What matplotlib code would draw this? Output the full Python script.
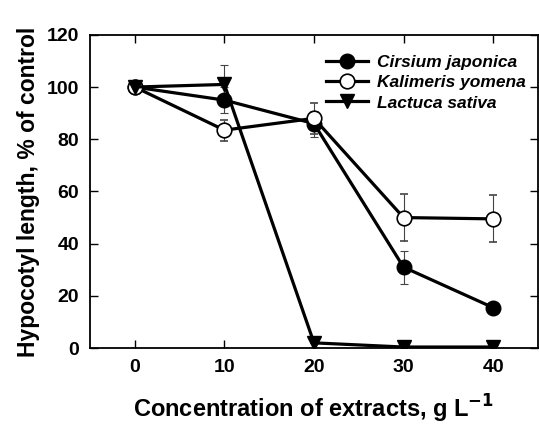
import matplotlib.pyplot as plt

plt.rcParams['font.family'] = ['Liberation Sans', 'DejaVu Sans']

conc = [0, 10, 20, 30, 40]

cirsium = [100, 95, 86, 31, 15.5]
cirsium_err = [0, 5, 5, 6.3, 0]
kalimeris = [100, 83.5, 88, 50, 49.5]
kalimeris_err = [0, 4, 6, 9, 9]
lactuca = [100, 101, 2, 0.4, 0.4]
lactuca_err = [0, 7.5, 0, 0, 0]

fig = plt.figure(figsize=(5.39, 4.25), dpi=100)
ax = fig.add_axes([0.167, 0.181, 0.831, 0.737])

err_kw = dict(ecolor='#444444', elinewidth=0.8, capsize=3, capthick=0.8)

c1 = ax.errorbar(conc, cirsium, yerr=cirsium_err, color='black', lw=2.3,
                 marker='o', ms=10.5, mfc='black', mec='black',
                 zorder=3, **err_kw)
c2 = ax.errorbar(conc, kalimeris, yerr=kalimeris_err, color='black', lw=2.3,
                 marker='o', ms=10.5, mfc='white', mec='black', mew=1.2,
                 zorder=3, **err_kw)
c3 = ax.errorbar(conc, lactuca, yerr=lactuca_err, color='black', lw=2.3,
                 marker='v', ms=10.5, mfc='black', mec='black',
                 zorder=3, **err_kw)

ax.set_xlim(-5, 45)
ax.set_ylim(0, 120)
ax.set_xticks(conc)
ax.set_yticks([0, 20, 40, 60, 80, 100, 120])
ax.tick_params(direction='in', top=True, right=True, length=6, width=1,
               labelsize=14, pad=8)
for lbl in ax.get_xticklabels() + ax.get_yticklabels():
    lbl.set_fontweight('bold')
for spine in ax.spines.values():
    spine.set_linewidth(1.3)

ax.set_xlabel('Concentration of extracts, g L$^{\\mathbf{-1}}$',
              fontsize=17, fontweight='bold', labelpad=12)
ax.set_ylabel('Hypocotyl length, % of control', fontsize=16.5,
              fontweight='bold', labelpad=5)

ax.legend([c1[0], c2[0], c3[0]],
          ['Cirsium japonica', 'Kalimeris yomena', 'Lactuca sativa'],
          loc='upper right', bbox_to_anchor=(0.995, 0.97),
          frameon=False, handlelength=2.4, handletextpad=0.5,
          labelspacing=0.3, borderaxespad=0.2,
          prop={'weight': 'bold', 'style': 'italic', 'size': 12.5})

fig.savefig('out.png', dpi=100)
